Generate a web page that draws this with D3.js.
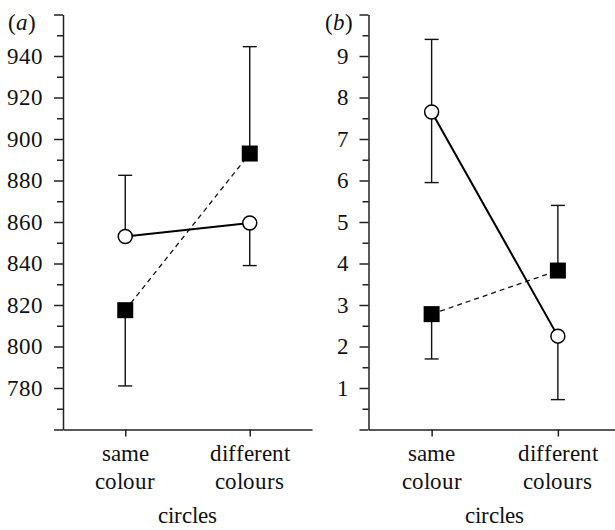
<!DOCTYPE html>
<html>
<head>
<meta charset="utf-8">
<script src="https://d3js.org/d3.v7.min.js"></script>
<style>
  @font-face {
    font-family: "ChartSerif";
    src: local("Liberation Serif"), local("LiberationSerif"), local("LiberationSerif-Regular"),
         local("Times New Roman"), local("DejaVu Serif"), local("DejaVuSerif"),
         local("Noto Serif"), local("NotoSerif-Regular"), local("Tinos");
    font-style: normal;
  }
  @font-face {
    font-family: "ChartSerif";
    src: local("Liberation Serif Italic"), local("LiberationSerif-Italic"),
         local("DejaVu Serif Italic"), local("DejaVuSerif-Italic"), local("Noto Serif Italic");
    font-style: italic;
  }
  body { margin: 0; background: #fff; }
  svg text { font-family: "ChartSerif", "Liberation Serif", "Noto Serif", "DejaVu Serif", Tinos, serif; fill: #111; }
</style>
</head>
<body>
<div class="chart"></div>
<script>
// categories on the x axis
var categories = ["same colour", "different colours"];

// panel (a)
var aCircleMean = [853, 859.5],
    aCircleHi = [882.5, null],
    aCircleLo = [null, 839];
var aSquareMean = [817.5, 893],
    aSquareHi = [null, 944.5],
    aSquareLo = [781, null];
var aMajorTicks = [760, 780, 800, 820, 840, 860, 880, 900, 920, 940, 960],
    aMinorTicks = [770, 790, 810, 830, 850, 870, 890, 910, 930, 950],
    aLabelTicks = [780, 800, 820, 840, 860, 880, 900, 920, 940];

// panel (b)
var bCircleMean = [7.65, 2.25],
    bCircleHi = [9.4, null],
    bCircleLo = [5.95, 0.72];
var bSquareMean = [2.78, 3.83],
    bSquareHi = [null, 5.4],
    bSquareLo = [1.7, null];
var bMajorTicks = [0, 1, 2, 3, 4, 5, 6, 7, 8, 9, 10],
    bMinorTicks = [0.5, 1.5, 2.5, 3.5, 4.5, 5.5, 6.5, 7.5, 8.5, 9.5],
    bLabelTicks = [1, 2, 3, 4, 5, 6, 7, 8, 9];

var width = 615,
    height = 530;

var serif = '"ChartSerif", "Liberation Serif", "Noto Serif", "DejaVu Serif", Tinos, serif';

var svg = d3.select(".chart").append("svg")
    .attr("width", width)
    .attr("height", height)
    .attr("font-family", serif);

var yTop = 14.5, yBottom = 429.5;

function drawPanel(opt) {
    var g = svg.append("g");

    var x = d3.scalePoint()
        .domain(categories)
        .range([opt.x0, opt.x1])
        .padding(0.5);

    var y = d3.scaleLinear()
        .domain(opt.domain)
        .range([yBottom, yTop]);

    // minor ticks
    g.append("g")
        .attr("transform", "translate(" + opt.x0 + ",0)")
        .call(d3.axisLeft(y).tickValues(opt.minor).tickSize(6).tickSizeOuter(0).tickFormat(""))
        .call(function(s) { s.select(".domain").remove(); });

    // major ticks + labels
    var yAxis = g.append("g")
        .attr("transform", "translate(" + opt.x0 + ",0)")
        .call(d3.axisLeft(y).tickValues(opt.major).tickSize(9).tickSizeOuter(0).tickPadding(11)
            .tickFormat(function(d) { return opt.labels.indexOf(d) >= 0 ? d : ""; }));
    yAxis.attr("font-family", serif).attr("font-size", 23);
    yAxis.selectAll("text")
        .attr("fill", "#111");

    // x axis
    g.append("g")
        .attr("transform", "translate(0," + yBottom + ")")
        .call(d3.axisBottom(x).tickSize(7).tickSizeOuter(0).tickFormat(""));

    g.selectAll(".domain, .tick line")
        .attr("stroke", "#222")
        .attr("stroke-width", 1.5);

    // two-line category labels
    var lbl = g.append("g").selectAll("text")
        .data(categories)
        .enter().append("text")
        .attr("text-anchor", "middle")
        .attr("font-size", 23);
    lbl.each(function(d) {
        var words = d.split(" ");
        var t = d3.select(this);
        t.append("tspan").attr("x", x(d)).attr("y", yBottom + 31).text(words[0]);
        t.append("tspan").attr("x", x(d)).attr("y", yBottom + 59).text(words[1]);
    });

    g.append("text")
        .attr("x", (opt.x0 + opt.x1) / 2)
        .attr("y", 523)
        .attr("text-anchor", "middle")
        .attr("font-size", 23)
        .text("circles");

    // panel letter
    var letter = g.append("text")
        .attr("x", opt.letterX)
        .attr("y", 30)
        .attr("text-anchor", "middle")
        .attr("font-size", 23);
    letter.append("tspan").text("(");
    letter.append("tspan").style("font-style", "italic").text(opt.letter);
    letter.append("tspan").text(")");

    // error bars
    var series = [
        { mean: opt.circleMean, hi: opt.circleHi, lo: opt.circleLo },
        { mean: opt.squareMean, hi: opt.squareHi, lo: opt.squareLo }
    ];
    series.forEach(function(s) {
        categories.forEach(function(c, i) {
            [s.hi[i], s.lo[i]].forEach(function(end) {
                if (end == null) return;
                g.append("line")
                    .attr("x1", x(c)).attr("x2", x(c))
                    .attr("y1", y(s.mean[i])).attr("y2", y(end))
                    .attr("stroke", "#111").attr("stroke-width", 1.4);
                g.append("line")
                    .attr("x1", x(c) - 7).attr("x2", x(c) + 7)
                    .attr("y1", y(end)).attr("y2", y(end))
                    .attr("stroke", "#111").attr("stroke-width", 1.4);
            });
        });
    });

    var line = d3.line()
        .x(function(d, i) { return x(categories[i]); })
        .y(function(d) { return y(d); });

    g.append("path")
        .datum(opt.squareMean)
        .attr("d", line)
        .attr("fill", "none")
        .attr("stroke", "#111")
        .attr("stroke-width", 1.3)
        .attr("stroke-dasharray", "5,4");

    g.append("path")
        .datum(opt.circleMean)
        .attr("d", line)
        .attr("fill", "none")
        .attr("stroke", "#000")
        .attr("stroke-width", 2);

    g.selectAll("rect.sq")
        .data(opt.squareMean)
        .enter().append("rect")
        .attr("class", "sq")
        .attr("x", function(d, i) { return x(categories[i]) - 8; })
        .attr("y", function(d) { return y(d) - 8; })
        .attr("width", 16)
        .attr("height", 16)
        .attr("fill", "#000");

    g.selectAll("circle.ci")
        .data(opt.circleMean)
        .enter().append("circle")
        .attr("class", "ci")
        .attr("cx", function(d, i) { return x(categories[i]); })
        .attr("cy", function(d) { return y(d); })
        .attr("r", 7)
        .attr("fill", "#fff")
        .attr("stroke", "#000")
        .attr("stroke-width", 1.5);
}

drawPanel({
    x0: 63, x1: 312, letterX: 22, letter: "a",
    domain: [760, 960],
    major: aMajorTicks, minor: aMinorTicks, labels: aLabelTicks,
    circleMean: aCircleMean, circleHi: aCircleHi, circleLo: aCircleLo,
    squareMean: aSquareMean, squareHi: aSquareHi, squareLo: aSquareLo
});

drawPanel({
    x0: 368.5, x1: 621, letterX: 339, letter: "b",
    domain: [0, 10],
    major: bMajorTicks, minor: bMinorTicks, labels: bLabelTicks,
    circleMean: bCircleMean, circleHi: bCircleHi, circleLo: bCircleLo,
    squareMean: bSquareMean, squareHi: bSquareHi, squareLo: bSquareLo
});
</script>
</body>
</html>
